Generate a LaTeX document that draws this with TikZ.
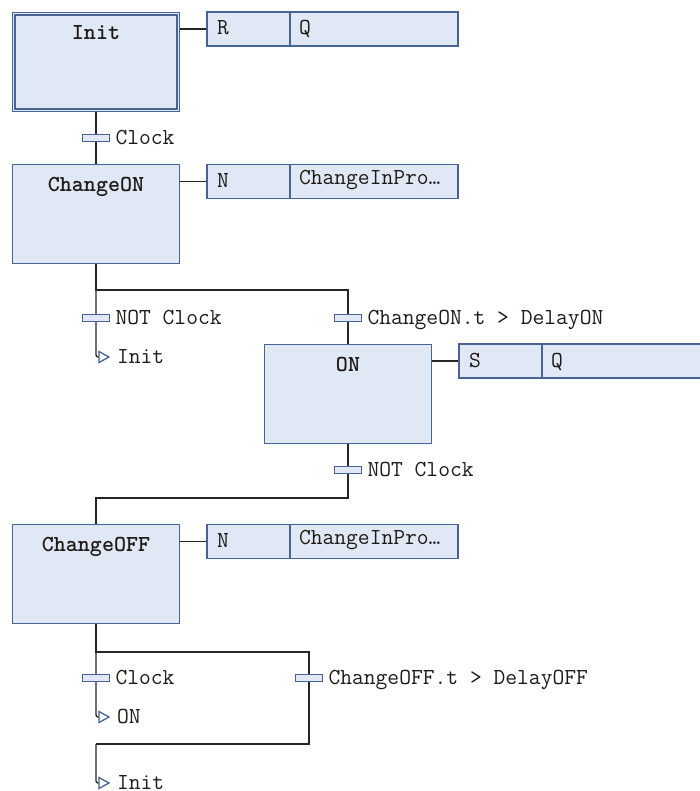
\documentclass[tikz,border=0pt]{standalone}
\usepackage{fontspec}
\pgfdeclarelayer{wires}
\pgfsetlayers{wires,main}
\definecolor{boxfill}{RGB}{224,232,246}
\definecolor{boxline}{RGB}{72,100,148}
\definecolor{wirecol}{RGB}{38,38,38}
\definecolor{ink}{RGB}{30,26,22}
\newcommand\codefont{\ttfamily\fontsize{22.9}{26}\selectfont\addfontfeatures{FakeBold=0.7}}
\newcommand\codebold{\ttfamily\bfseries\fontsize{22.9}{26}\selectfont}
\begin{document}
\begin{tikzpicture}[x=1pt,y=-1pt,
  every node/.style={inner sep=0pt, outer sep=0pt},
  stepbox/.style={draw=boxline, fill=boxfill, line width=1.4pt,
    minimum width=167pt, minimum height=99pt},
  initbox/.style={draw=boxline, fill=boxfill, double=boxfill,
    double distance=1.4pt, line width=1.2pt,
    minimum width=164.5pt, minimum height=96.5pt},
  steplbl/.style={font=\codebold, text=ink, anchor=base},
  qualcell/.style={draw=boxline, fill=boxfill, line width=1.3pt,
    minimum width=83pt, minimum height=34pt, anchor=west},
  namecell/.style={draw=boxline, fill=boxfill, line width=1.3pt,
    minimum width=168pt, minimum height=34pt, anchor=west},
  acttext/.style={font=\codefont, text=ink, anchor=base west},
  trbar/.style={draw=boxline, fill=boxfill, line width=1.2pt,
    minimum width=27pt, minimum height=7pt},
  trtext/.style={font=\codefont, text=ink, anchor=base west},
  wire/.style={draw=wirecol, line width=1.3pt},
  jumptri/.style={draw=boxline, fill=white, line width=1.3pt, line join=miter},
]
\useasboundingbox (0,0) rectangle (700,791);

% ---- steps ----
\node[initbox] (init) at (96,62) {};
\node[steplbl] (initL) at (96,39.5) {Init};
\node[stepbox] (chon) at (96,214) {};
\node[steplbl] (chonL) at (96,191.5) {ChangeON};
\node[stepbox] (on) at (348,394) {};
\node[steplbl] (onL) at (348,371.5) {ON};
\node[stepbox] (choff) at (96,574) {};
\node[steplbl] (choffL) at (96,551.5) {ChangeOFF};

% ---- action blocks ----
\node[qualcell] (initQ) at (207,29) {};
\node[namecell] (initN) at (initQ.east) {};
\node[acttext] (initQt) at ([xshift=10pt,yshift=-6pt]initQ.west) {R};
\node[acttext] (initNt) at ([xshift=9pt,yshift=-6pt]initN.west) {Q};

\node[qualcell] (chonQ) at (207,181.5) {};
\node[namecell] (chonN) at (chonQ.east) {};
\node[acttext] (chonQt) at ([xshift=10pt,yshift=-6pt]chonQ.west) {N};
\node[acttext] (chonNt) at ([xshift=9pt,yshift=-3pt]chonN.west) {ChangeInPro…};

\node[qualcell] (onQ) at (459,361) {};
\node[namecell, minimum width=200pt] (onN) at (onQ.east) {};
\node[acttext] (onQt) at ([xshift=10pt,yshift=-6pt]onQ.west) {S};
\node[acttext] (onNt) at ([xshift=9pt,yshift=-6pt]onN.west) {Q};

\node[qualcell] (choffQ) at (207,541.5) {};
\node[namecell] (choffN) at (choffQ.east) {};
\node[acttext] (choffQt) at ([xshift=10pt,yshift=-6pt]choffQ.west) {N};
\node[acttext] (choffNt) at ([xshift=9pt,yshift=-3pt]choffN.west) {ChangeInPro…};

% ---- transitions ----
\node[trbar] (t1) at (96,138) {};
\node[trtext] (t1t) at ([xshift=6pt,yshift=-6.5pt]t1.east) {Clock};
\node[trbar] (t2) at (96,318) {};
\node[trtext] (t2t) at ([xshift=6pt,yshift=-6.5pt]t2.east) {NOT Clock};
\node[trbar] (t3) at (348,318) {};
\node[trtext] (t3t) at ([xshift=6pt,yshift=-6.5pt]t3.east) {ChangeON.t > DelayON};
\node[trbar] (t4) at (348,470) {};
\node[trtext] (t4t) at ([xshift=6pt,yshift=-6.5pt]t4.east) {NOT Clock};
\node[trbar] (t5) at (96,678) {};
\node[trtext] (t5t) at ([xshift=6pt,yshift=-6.5pt]t5.east) {Clock};
\node[trbar] (t6) at (309,678) {};
\node[trtext] (t6t) at ([xshift=6pt,yshift=-6.5pt]t6.east) {ChangeOFF.t > DelayOFF};

% ---- jumps ----
\coordinate (j1) at (96,357);
\coordinate (j2) at (96,717);
\coordinate (j3) at (96,783);
\foreach \j in {j1,j2,j3}
  \draw[jumptri] ([xshift=3pt,yshift=5.5pt]\j) -- ([xshift=13pt]\j)
     -- ([xshift=3pt,yshift=-5.5pt]\j) -- cycle;
\node[trtext] (j1t) at ([xshift=21pt,yshift=-6.5pt]j1) {Init};
\node[trtext] (j2t) at ([xshift=21pt,yshift=-6.5pt]j2) {ON};
\node[trtext] (j3t) at ([xshift=21pt,yshift=-6.5pt]j3) {Init};

% ---- branch and merge points ----
\coordinate (b1l) at (96,290);
\coordinate (b1r) at (348,290);
\coordinate (m1r) at (348,498);
\coordinate (m1l) at (96,498);
\coordinate (b2l) at (96,652);
\coordinate (b2r) at (309,652);
\coordinate (m2r) at (309,744);
\coordinate (m2l) at (96,744);

\begin{pgfonlayer}{wires}
  % sequence lines
  \draw[wire] (init.south) -- (chon.north);
  \draw[wire] (chon.south) -- (b1l) -- (b1r) -- (on.north);
  \draw[wire, rounded corners=2pt] (b1l) -- (j1) -- ([xshift=4pt]j1);
  \draw[wire] (on.south) -- (m1r) -- (m1l) -- (choff.north);
  \draw[wire] (choff.south) -- (b2l) -- (b2r) -- (m2r) -- (m2l);
  \draw[wire, rounded corners=2pt] (b2l) -- (j2) -- ([xshift=4pt]j2);
  \draw[wire, rounded corners=2pt] (m2l) -- (j3) -- ([xshift=4pt]j3);
  % action links
  \draw[wire] (init.east |- initQ.west) -- (initQ.west);
  \draw[wire] (chon.east |- chonQ.west) -- (chonQ.west);
  \draw[wire] (on.east |- onQ.west) -- (onQ.west);
  \draw[wire] (choff.east |- choffQ.west) -- (choffQ.west);
\end{pgfonlayer}
\end{tikzpicture}
\end{document}
